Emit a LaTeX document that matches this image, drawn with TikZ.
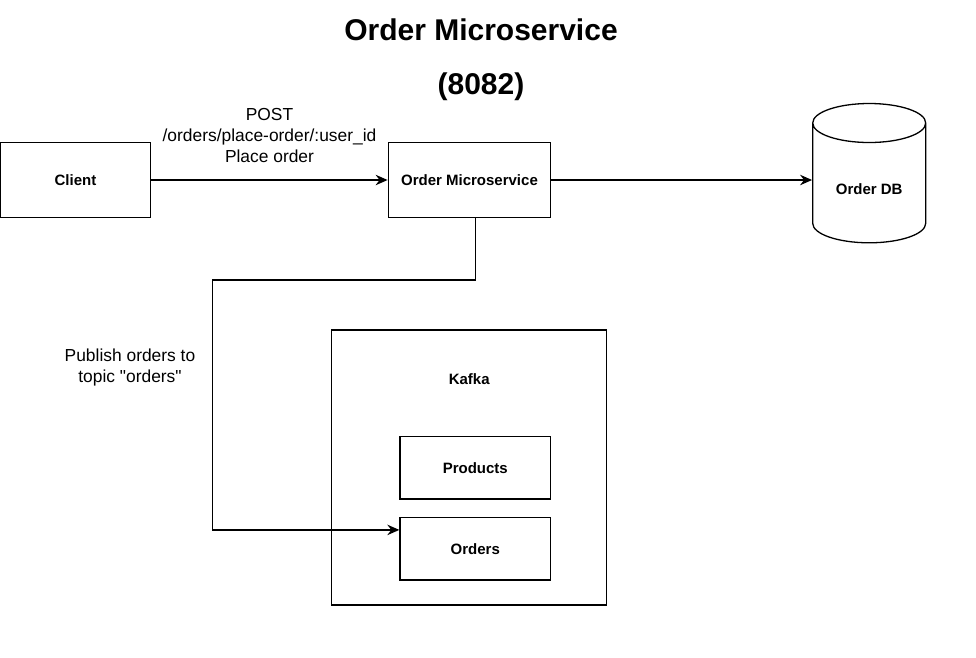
\documentclass[tikz,border=0pt]{standalone}
\usepackage{fontspec}
\setmainfont{Liberation Sans}[Ligatures=TeXOff]
\usetikzlibrary{arrows.meta}
\begin{document}
\begin{tikzpicture}[x=1pt,y=-1pt,line width=1.3pt,
  box/.style={draw, rectangle, inner sep=0pt, font=\bfseries\fontsize{15}{18}\selectfont},
  boldtxt/.style={inner sep=0pt, font=\bfseries\fontsize{15}{18}\selectfont},
  lbl/.style={inner sep=0pt, align=center, font=\fontsize{17.4}{21}\selectfont},
  titletxt/.style={inner sep=0pt, font=\bfseries\fontsize{30}{36}\selectfont},
  arr/.style={-{Stealth[length=12pt,width=10.5pt,inset=4pt]}}]
\useasboundingbox (0,0) rectangle (976,657);

% title
\node[titletxt] (title) at (481,30) {Order Microservice};
\node[titletxt] (port) at (481,87) {(8082)};

% boxes
\node[box, minimum width=149.5pt, minimum height=74.5pt] (client) at (75.5,180) {Client};
\node[box, minimum width=162.5pt, minimum height=74.5pt] (om) at (469.5,180) {Order Microservice};
\node[box, minimum width=275pt, minimum height=275pt] (kafka) at (469.2,467.5) {};
\node[boldtxt] (kafkalbl) at (469.2,379.5) {Kafka};
\node[box, minimum width=150.7pt, minimum height=62.3pt] (products) at (475.3,467.8) {Products};
\node[box, minimum width=150.7pt, minimum height=62.3pt] (orders) at (475.3,548.9) {Orders};

% database cylinder
\node[minimum width=113pt, minimum height=139.4pt, inner sep=0pt] (db) at (869.2,173) {};
\node[boldtxt] (dblbl) at (869.2,189) {Order DB};
\draw (812.7,123) -- (812.7,223.3)
  arc[start angle=180, end angle=360, x radius=56.5pt, y radius=19.5pt]
  -- (925.7,123)
  arc[start angle=0, end angle=360, x radius=56.5pt, y radius=19.5pt];

% connectors
\draw[arr] (client.east) -- (om.west);
\draw[arr] (om.east) -- (om.east -| db.west);
\coordinate (bend) at (212.7,280);
\draw[arr] ([xshift=6pt]om.south) |- (bend) |- ([yshift=19pt]orders.west);

% labels
\node[lbl] (postlbl) at (269.5,136) {POST\\/orders/place-order/:user\_id\\Place order};
\node[lbl] (publbl) at (130,367) {Publish orders to\\topic "orders"};
\end{tikzpicture}
\end{document}
